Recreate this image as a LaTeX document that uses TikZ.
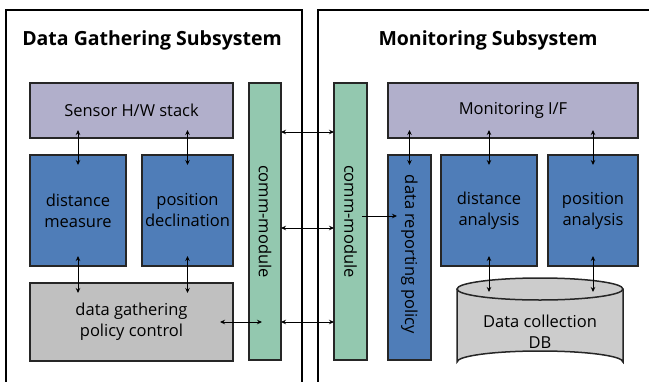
\documentclass[tikz,border=0pt]{standalone}
\usepackage{fontspec}
\setmainfont{Open Sans}
\usetikzlibrary{calc,arrows.meta}
\definecolor{lav}{HTML}{B1AFCB}
\definecolor{blu}{HTML}{4F7DB8}
\definecolor{grn}{HTML}{93C8AF}
\definecolor{gry}{HTML}{C0C0C0}
\definecolor{dbg}{HTML}{CCCCCC}
\definecolor{edge}{HTML}{262626}
\tikzset{
  txt/.style={font=\fontsize{16.5}{21}\selectfont},
  box/.style={draw=edge, line width=1.5pt, anchor=north west, inner sep=0pt, outer sep=0pt, align=center, txt},
  frame/.style={draw=black, line width=2pt},
  arr/.style={line width=0.9pt, {Stealth[length=5pt,width=4.5pt]}-{Stealth[length=5pt,width=4.5pt]}},
  arrone/.style={line width=0.9pt, -{Stealth[length=5pt,width=4.5pt]}},
  ttl/.style={font=\bfseries\fontsize{19.5}{22}\selectfont},
}
\begin{document}
\begin{tikzpicture}[x=1pt,y=-1pt]
\useasboundingbox (0,0) rectangle (649,381);
% frames
\draw[frame] (6,385) -- (6,10) -- (302,10) -- (302,385);
\draw[frame] (317.5,385) -- (317.5,10) -- (652,10);
\node[ttl] (t1) at (152,40) {Data Gathering Subsystem};
\node[ttl] (t2) at (488,40) {Monitoring Subsystem};
% left side
\node[box, fill=lav, minimum width=203, minimum height=55] (sensor) at (30,83) {Sensor H/W stack};
\node[box, fill=blu, minimum width=96, minimum height=111] (dm) at (30,155) {distance\\measure};
\node[box, fill=blu, minimum width=91, minimum height=111] (pd) at (142,155) {position\\declination};
\node[box, fill=gry, minimum width=203, minimum height=78] (gp) at (30,283) {data gathering\\policy control};
\node[box, fill=grn, minimum width=32, minimum height=277] (cm1) at (249,83) {};
\node[rotate=-90, txt] (cm1t) at (cm1.center) {comm-module};
% right side
\node[box, fill=grn, minimum width=33, minimum height=277] (cm2) at (334,83) {};
\node[rotate=-90, txt] (cm2t) at (cm2.center) {comm-module};
\node[box, fill=lav, minimum width=250, minimum height=55] (mif) at (388,83) {Monitoring I/F};
\node[box, fill=blu, minimum width=43, minimum height=205] (drp) at (388,155) {};
\node[rotate=-90, txt] (drpt) at ($(drp.center)+(0,-3)$) {data reporting policy};
\node[box, fill=blu, minimum width=96, minimum height=111] (da) at (441,155) {distance\\analysis};
\node[box, fill=blu, minimum width=90, minimum height=111] (pa) at (548,155) {position\\analysis};
% database cylinder
\draw[draw=edge, line width=1.5pt, fill=dbg] (457,289) -- (457,362) arc[start angle=180, end angle=360, x radius=83, y radius=11] -- (623,289);
\draw[draw=edge, line width=1.5pt, fill=dbg] (540,289) ellipse[x radius=83, y radius=11];
\node[txt, align=center] (db) at (540,332) {Data collection\\DB};
\coordinate (dbtop) at (540,289);
% vertical arrows
\draw[arr] ([yshift=8pt]sensor.south -| dm.center) -- ([yshift=-10pt]dm.north);
\draw[arr] ([yshift=8pt]sensor.south -| pd.center) -- ([yshift=-10pt]pd.north);
\draw[arr] ([yshift=10pt]dm.south) -- ([yshift=-10pt]gp.north -| dm.center);
\draw[arr] ([yshift=10pt]pd.south) -- ([yshift=-10pt]gp.north -| pd.center);
\draw[arr] ([yshift=8pt]mif.south -| drp.center) -- ([yshift=-10pt]drp.north);
\draw[arr] ([yshift=8pt]mif.south -| da.center) -- ([yshift=-10pt]da.north);
\draw[arr] ([yshift=8pt]mif.south -| pa.center) -- ([yshift=-10pt]pa.north);
\draw[arr] ([yshift=10pt]da.south) -- ([yshift=-3pt]dbtop -| da.center);
\draw[arr] ([yshift=10pt]pa.south) -- ([yshift=-3pt]dbtop -| pa.center);
% horizontal arrows
\draw[arr] (cm1.east |- 0,132) -- (cm2.west |- 0,132);
\draw[arr] (cm1.east |- 0,228) -- (cm2.west |- 0,228);
\draw[arr] (cm1.east |- 0,322) -- (cm2.west |- 0,322);
\draw[arr] ([xshift=-13pt]gp.east |- 0,322) -- ([xshift=13pt]cm1.west |- 0,322);
\draw[arrone] ([xshift=-5pt]cm2.east |- 0,216) -- ([xshift=9pt]drp.west |- 0,216);
\end{tikzpicture}
\end{document}
